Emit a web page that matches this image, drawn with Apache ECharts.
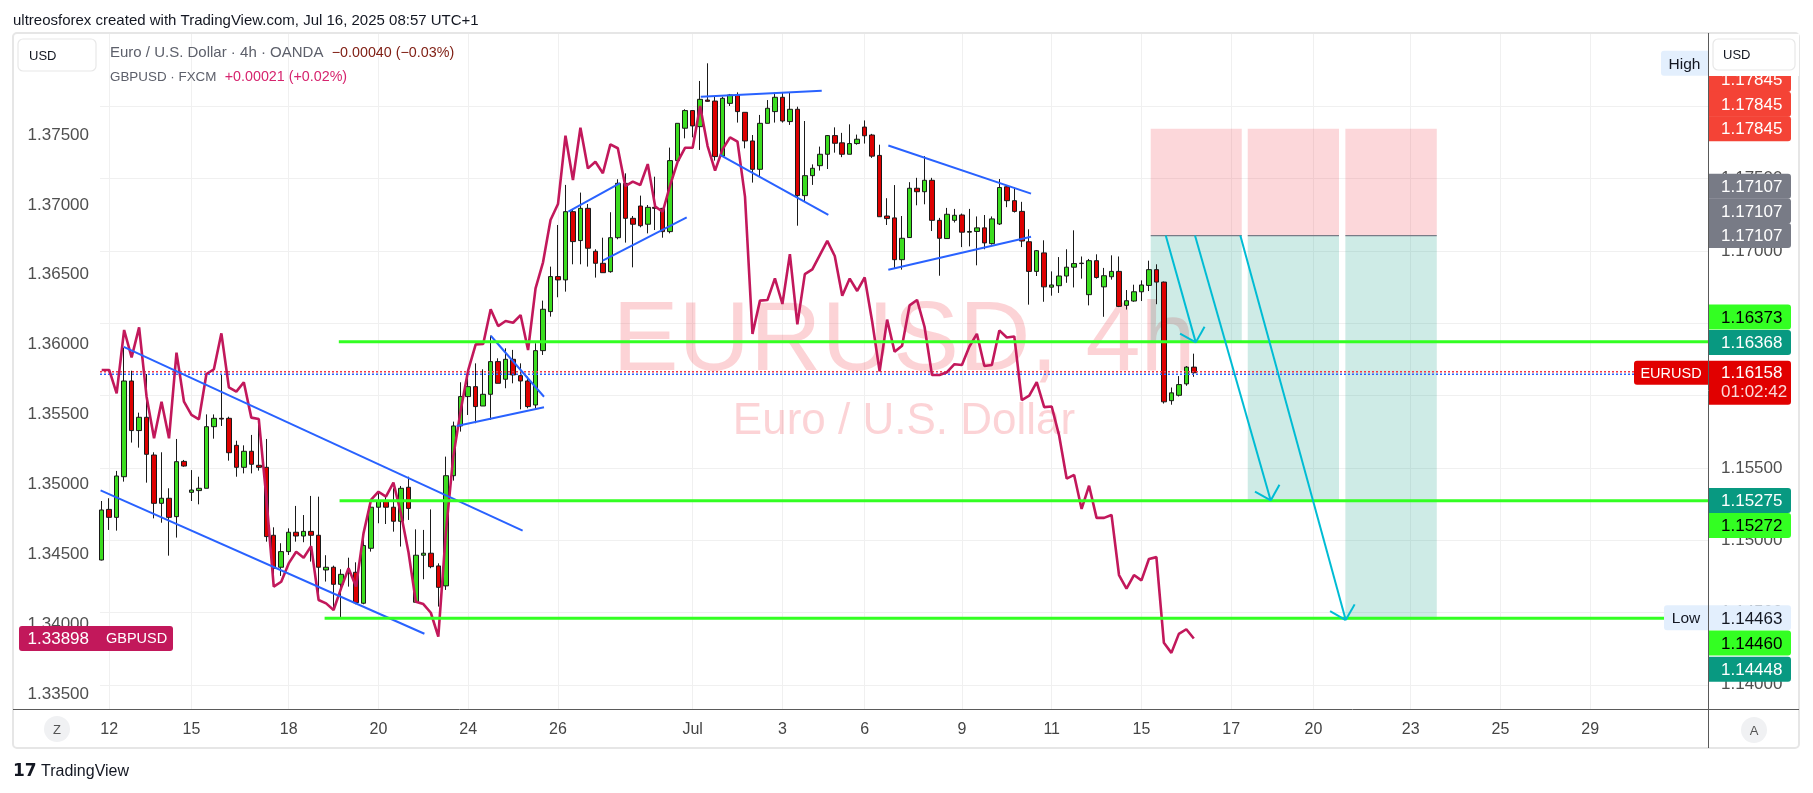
<!DOCTYPE html>
<html><head><meta charset="utf-8">
<script src="https://cdn.jsdelivr.net/npm/echarts@6/dist/echarts.min.js"></script>
<style>html,body{margin:0;padding:0;background:#fff;}#c{width:1813px;height:793px;}</style>
</head><body><div id="c"></div>
<script>
// ---------- DATA (4h bars, index 0 = Jun 11 22:00) ----------
const eurOpen = [1.14863,1.15213,1.15158,1.15439,1.16101,1.15758,1.15850,1.15589,1.15255,1.15290,1.15163,1.15545,1.15331,1.15343,1.15359,1.15785,1.15843,1.15843,1.15656,1.15504,1.15615,1.15518,1.15504,1.15034,1.14813,1.14921,1.15055,1.15029,1.15061,1.15034,1.14794,1.14813,1.14695,1.14771,1.14778,1.14564,1.14944,1.15228,1.15274,1.15228,1.15131,1.15366,1.14571,1.14896,1.14910,1.14822,1.14684,1.15446,1.15790,1.15993,1.16062,1.15928,1.16009,1.16235,1.16113,1.16251,1.16138,1.16101,1.15935,1.16311,1.16581,1.16823,1.16800,1.17272,1.17072,1.17295,1.16998,1.16915,1.16857,1.17092,1.17468,1.17226,1.17311,1.17185,1.17302,1.17295,1.17134,1.17625,1.17849,1.17971,1.17860,1.18044,1.18037,1.17657,1.18021,1.18079,1.17959,1.17761,1.17565,1.17883,1.17964,1.18063,1.17895,1.17980,1.17383,1.17521,1.17590,1.17669,1.17798,1.17748,1.17669,1.17743,1.17857,1.17802,1.17661,1.17242,1.17229,1.16940,1.17093,1.17434,1.17410,1.17489,1.17212,1.17086,1.17212,1.17249,1.17130,1.17135,1.17160,1.17051,1.17187,1.17444,1.17348,1.17274,1.17064,1.16859,1.16987,1.16750,1.16760,1.16827,1.16888,1.16916,1.16698,1.16933,1.16752,1.16822,1.16859,1.16624,1.16654,1.16718,1.16762,1.16871,1.16785,1.15965,1.16002,1.16081,1.16197];
const eurClose = [1.15209,1.15158,1.15444,1.16101,1.15758,1.15850,1.15594,1.15255,1.15290,1.15158,1.15543,1.15513,1.15347,1.15359,1.15785,1.15843,1.15838,1.15605,1.15504,1.15615,1.15525,1.15504,1.15025,1.14806,1.14921,1.15055,1.15029,1.15061,1.15034,1.14813,1.14813,1.14695,1.14764,1.14778,1.14568,1.14963,1.15228,1.15274,1.15228,1.15131,1.15359,1.15220,1.14896,1.14910,1.14817,1.14674,1.15446,1.15790,1.15993,1.16062,1.15924,1.16009,1.16235,1.16085,1.16251,1.16143,1.16101,1.15924,1.16311,1.16597,1.16823,1.16800,1.17272,1.17065,1.17295,1.17019,1.16915,1.16850,1.17092,1.17468,1.17226,1.17185,1.17175,1.17302,1.17295,1.17134,1.17625,1.17883,1.17971,1.17865,1.18049,1.18035,1.17653,1.18056,1.18079,1.17964,1.17761,1.17565,1.17883,1.17987,1.18063,1.17899,1.17980,1.17383,1.17521,1.17572,1.17669,1.17798,1.17745,1.17669,1.17743,1.17773,1.17797,1.17656,1.17237,1.17224,1.16940,1.17088,1.17434,1.17410,1.17489,1.17212,1.17088,1.17254,1.17247,1.17130,1.17135,1.17160,1.17056,1.17222,1.17439,1.17348,1.17274,1.17069,1.16859,1.17002,1.16752,1.16765,1.16827,1.16888,1.16913,1.16913,1.16933,1.16817,1.16829,1.16859,1.16617,1.16656,1.16718,1.16765,1.16871,1.16785,1.15957,1.16019,1.16076,1.16197,1.16158];
const eurHigh = [1.15271,1.15290,1.15479,1.16331,1.16172,1.15882,1.16149,1.15608,1.15608,1.15359,1.15700,1.15555,1.15485,1.15439,1.15870,1.15870,1.16149,1.15854,1.15688,1.15656,1.15728,1.15813,1.15700,1.15089,1.14979,1.15082,1.15237,1.15174,1.15306,1.15301,1.14896,1.14824,1.14799,1.14879,1.14847,1.15009,1.15278,1.15329,1.15301,1.15359,1.15375,1.15439,1.15075,1.15071,1.15213,1.14840,1.15578,1.15820,1.16092,1.16143,1.16223,1.16182,1.16415,1.16258,1.16327,1.16316,1.16223,1.16131,1.16362,1.16657,1.16892,1.17180,1.17457,1.17284,1.17404,1.17325,1.17012,1.17092,1.17268,1.17496,1.17537,1.17242,1.17383,1.17318,1.17514,1.17295,1.17715,1.17883,1.17980,1.17975,1.18176,1.18298,1.18067,1.18067,1.18086,1.18097,1.17959,1.17802,1.17941,1.18044,1.18095,1.18095,1.18095,1.17998,1.17899,1.17599,1.17722,1.17802,1.17855,1.17817,1.17876,1.17805,1.17903,1.17810,1.17735,1.17365,1.17456,1.17242,1.17476,1.17506,1.17656,1.17506,1.17229,1.17298,1.17291,1.17259,1.17291,1.17239,1.17249,1.17239,1.17498,1.17452,1.17439,1.17340,1.17150,1.17007,1.17074,1.16859,1.16958,1.17012,1.17143,1.16962,1.16945,1.16977,1.16883,1.16970,1.16962,1.16730,1.16767,1.16797,1.16933,1.16908,1.16789,1.16056,1.16135,1.16204,1.16290];
const eurLow = [1.14860,1.15071,1.15066,1.15405,1.15675,1.15640,1.15398,1.15151,1.15121,1.14893,1.15018,1.15508,1.15271,1.15248,1.15359,1.15702,1.15790,1.15550,1.15439,1.15462,1.15462,1.15481,1.14990,1.14753,1.14753,1.14898,1.14990,1.14986,1.14852,1.14614,1.14714,1.14518,1.14463,1.14679,1.14557,1.14557,1.14921,1.15117,1.15112,1.15059,1.14956,1.15140,1.14568,1.14730,1.14806,1.14541,1.14656,1.15412,1.15751,1.15866,1.15809,1.15928,1.15832,1.16085,1.16051,1.16085,1.15905,1.15912,1.15912,1.16281,1.16546,1.16680,1.16719,1.16908,1.16908,1.16892,1.16816,1.16850,1.16850,1.17081,1.17058,1.16887,1.17164,1.17122,1.17145,1.17092,1.17122,1.17606,1.17779,1.17786,1.17699,1.18033,1.17625,1.17653,1.18003,1.17888,1.17710,1.17473,1.17514,1.17883,1.17888,1.17888,1.17872,1.17175,1.17341,1.17457,1.17556,1.17567,1.17680,1.17649,1.17669,1.17735,1.17743,1.17644,1.17237,1.17180,1.16883,1.16871,1.17093,1.17316,1.17323,1.17138,1.16829,1.17086,1.17197,1.17027,1.17032,1.16901,1.17012,1.17044,1.17180,1.17303,1.17266,1.17027,1.16629,1.16827,1.16649,1.16691,1.16710,1.16780,1.16748,1.16809,1.16624,1.16809,1.16545,1.16802,1.16612,1.16595,1.16649,1.16654,1.16723,1.16632,1.15945,1.15937,1.15994,1.16068,1.16130];
const gbpClose = [1.35819,1.35819,1.35652,1.36105,1.35909,1.36124,1.35628,1.35330,1.35592,1.35330,1.35943,1.35592,1.35497,1.35466,1.35790,1.35824,1.36081,1.35695,1.35664,1.35731,1.35478,1.35468,1.34913,1.34269,1.34304,1.34435,1.34519,1.34476,1.34559,1.34173,1.34149,1.34102,1.34257,1.34400,1.34269,1.34650,1.34889,1.34948,1.34913,1.35013,1.34793,1.34519,1.34161,1.34144,1.34082,1.33911,1.34650,1.35199,1.35532,1.35818,1.36002,1.36005,1.36253,1.36133,1.36169,1.36157,1.36212,1.35962,1.36403,1.36589,1.36892,1.37006,1.37495,1.37178,1.37552,1.37261,1.37309,1.37226,1.37433,1.37405,1.37135,1.37166,1.37142,1.37292,1.36987,1.36951,1.37142,1.37309,1.37409,1.37409,1.37707,1.37421,1.37245,1.37397,1.37483,1.37452,1.37059,1.36076,1.36315,1.36319,1.36474,1.36291,1.36648,1.36145,1.36505,1.36539,1.36641,1.36742,1.36634,1.36350,1.36473,1.36384,1.36481,1.36166,1.35809,1.36179,1.35949,1.35993,1.36281,1.36320,1.36128,1.35783,1.35783,1.35803,1.35860,1.35855,1.35987,1.36077,1.35847,1.35855,1.36102,1.36051,1.36059,1.35604,1.35635,1.35732,1.35553,1.35558,1.35349,1.35042,1.35068,1.34825,1.34991,1.34761,1.34761,1.34782,1.34352,1.34255,1.34352,1.34314,1.34467,1.34480,1.33867,1.33795,1.33931,1.33964,1.33898];
const xTickIndex = [1,12,25,37,49,61,79,91,102,115,127,139,151,162,175,187,199];
const xTickLabels = ['12','15','18','20','24','26','Jul','3','6','9','11','15','17','20','23','25','29'];
const eurTicks = [1.14,1.145,1.15,1.155,1.16,1.165,1.17,1.175,1.18];
const gbpTicks = [1.335,1.34,1.345,1.35,1.355,1.36,1.365,1.37,1.375];
// drawings in (bar index, EURUSD price)
const trendLines = [
  [2.94,1.16337,56.27,1.15066],[-0.15,1.15345,43.14,1.14353],
  [52.01,1.16414,59.13,1.15992],[47.46,1.15790,59.13,1.15919],
  [62.38,1.17272,69.29,1.17470],[66.98,1.16933,78.21,1.17233],
  [80.08,1.18067,96.26,1.18109],[82.66,1.17664,97.14,1.17249],
  [105.16,1.17730,124.24,1.17397],[105.16,1.16871,124.24,1.17098]
];
const levelStart = [31.7,31.8,29.8];
const levelPrice = [1.16373,1.15272,1.14460];
const positions = [
  [140.24,152.41,1.17107,1.17845,1.16368],
  [153.21,165.41,1.17107,1.17845,1.15275],
  [166.26,178.48,1.17107,1.17845,1.14448]
];
const arrows = [[142.25,1.17107,146.26,1.16368],[146.16,1.17107,156.28,1.15275],[152.22,1.17107,166.31,1.14448]];
const askBid = [1.16165,1.16147];
const lastEur = 1.16158, lastGbp = 1.33898, highEur = 1.18298, lowEur = 1.14463;

const X_MIN = -0.227, X_MAX = 214.74;
const FONT = 'Liberation Sans, Arial, sans-serif';
const chart = echarts.init(document.getElementById('c'), null, {renderer:'canvas'});

const candleData = eurOpen.map((o,i)=>[i,o,eurClose[i],eurLow[i],eurHigh[i]]);
const gbpData = gbpClose.map((v,i)=>[i,v]);

function lineEl(p1,p2,stroke,w,dash){return {type:'line',shape:{x1:p1[0],y1:p1[1],x2:p2[0],y2:p2[1]},style:{stroke:stroke,lineWidth:w,lineDash:dash||null}};}

chart.setOption({
  animation:false,
  backgroundColor:'#ffffff',
  grid:{left:100,right:105,top:33,bottom:84,containLabel:false},
  xAxis:{type:'value',min:X_MIN,max:X_MAX,
    axisLine:{show:false},
    axisTick:{show:false,customValues:xTickIndex},
    axisLabel:{customValues:xTickIndex,margin:13,color:'#444',fontSize:16,fontFamily:FONT,
      formatter:v=>{const k=xTickIndex.indexOf(Math.round(v));return k>=0?xTickLabels[k]:'';}},
    splitLine:{show:true,lineStyle:{color:'#f0f0f0',width:1}}},
  yAxis:[
    {type:'value',position:'left',min:1.333935,max:1.382297,
      axisLine:{show:false},axisTick:{show:false,customValues:gbpTicks},splitLine:{show:false},
      axisLabel:{customValues:gbpTicks,margin:11,color:'#4f4f4f',fontSize:17,fontFamily:FONT,formatter:v=>v.toFixed(5)}},
    {type:'value',position:'right',min:1.138326,max:1.185076,
      axisLine:{show:false},axisTick:{show:false,customValues:eurTicks},
      splitLine:{show:true,lineStyle:{color:'#f0f0f0',width:1}},
      axisLabel:{customValues:eurTicks,margin:13,color:'#4f4f4f',fontSize:17,fontFamily:FONT,formatter:v=>v.toFixed(5)}}
  ],
  series:[
    {type:'custom',name:'positions',xAxisIndex:0,yAxisIndex:1,z:1,data:positions,
      encode:{x:[0,1],y:[2,3,4]},
      renderItem:(params,api)=>{
        const a=api.coord([api.value(0),api.value(3)]);
        const b=api.coord([api.value(1),api.value(2)]);
        const c=api.coord([api.value(1),api.value(4)]);
        return {type:'group',children:[
          {type:'rect',shape:{x:a[0],y:a[1],width:b[0]-a[0],height:b[1]-a[1]},style:{fill:'rgba(242,54,69,0.2)'}},
          {type:'rect',shape:{x:a[0],y:b[1],width:b[0]-a[0],height:c[1]-b[1]},style:{fill:'rgba(8,153,129,0.2)'}},
          lineEl([a[0],b[1]],[b[0],b[1]],'#787b86',1.2)
        ]};
      }},
    {type:'candlestick',name:'EURUSD',xAxisIndex:0,yAxisIndex:1,z:2,barWidth:5,
      encode:{x:0,y:[1,2,3,4]},data:candleData,
      itemStyle:{color:'#3bdc1f',color0:'#dd0000',borderColor:'#1a1a1a',borderColor0:'#1a1a1a',borderWidth:1}},
    {type:'line',name:'GBPUSD',xAxisIndex:0,yAxisIndex:0,z:3,data:gbpData,showSymbol:false,symbol:'none',
      lineStyle:{color:'#c2185b',width:2.6}},
    {type:'custom',name:'askbid',xAxisIndex:0,yAxisIndex:1,z:3,data:askBid.map((v,i)=>[i,v]),
      renderItem:(params,api)=>{
        const p=api.coord([X_MIN,api.value(1)]);const cs=params.coordSys;
        return lineEl([cs.x,p[1]],[cs.x+cs.width,p[1]],api.value(0)===0?'#f23645':'#2962ff',1.5,[2,2]);
      }},
    {type:'custom',name:'trend',xAxisIndex:0,yAxisIndex:1,z:4,data:trendLines,
      renderItem:(params,api)=>{
        return lineEl(api.coord([api.value(0),api.value(1)]),api.coord([api.value(2),api.value(3)]),'#2962ff',2);
      }},
    {type:'custom',name:'levels',xAxisIndex:0,yAxisIndex:1,z:4,data:levelStart.map((s,i)=>[s,levelPrice[i]]),
      renderItem:(params,api)=>{
        const p=api.coord([api.value(0),api.value(1)]);const cs=params.coordSys;
        return lineEl(p,[cs.x+cs.width,p[1]],'#33ff22',3);
      }},
    {type:'custom',name:'arrows',xAxisIndex:0,yAxisIndex:1,z:5,data:arrows,
      renderItem:(params,api)=>{
        const p1=api.coord([api.value(0),api.value(1)]);const p2=api.coord([api.value(2),api.value(3)]);
        const dx=p1[0]-p2[0],dy=p1[1]-p2[1],L=Math.hypot(dx,dy),ux=dx/L,uy=dy/L,h=18,ang=Math.PI/4;
        const r=(t)=>[p2[0]+h*(ux*Math.cos(t)-uy*Math.sin(t)),p2[1]+h*(ux*Math.sin(t)+uy*Math.cos(t))];
        return {type:'group',children:[lineEl(p1,p2,'#00bcd4',2),lineEl(p2,r(ang),'#00bcd4',2),lineEl(p2,r(-ang),'#00bcd4',2)]};
      }}
  ]
});

// ---------- overlay: texts, badges, frame ----------
const yE = v=>chart.convertToPixel({yAxisIndex:1},v);
const yG = v=>chart.convertToPixel({yAxisIndex:0},v);
const BH=25, STEP=24.6, AX=1708;
const rightBadges = [
  [1.17845,-2,'#f44336','#fff'],[1.17845,-1,'#f44336','#fff'],[1.17845,0,'#f44336','#fff'],
  [1.17107,-2,'#787b86','#fff'],[1.17107,-1,'#787b86','#fff'],[1.17107,0,'#787b86','#fff'],
  [1.16373,-1,'#33ff22','#000'],[1.16368,0,'#089981','#fff'],
  [1.15275,0,'#089981','#fff'],[1.15272,1,'#33ff22','#000'],
  [lowEur,0,'#e3effd','#131722'],[1.14460,1,'#33ff22','#000'],[1.14448,2,'#089981','#fff']
];
const g=[];
// watermark
g.push({type:'text',z:0,x:904,y:343,style:{text:'EURUSD, 4h',fontSize:99,fontFamily:FONT,fill:'rgba(242,54,69,0.22)',align:'center',verticalAlign:'middle'}});
g.push({type:'text',z:0,x:904,y:422,style:{text:'Euro / U.S. Dollar',fontSize:44,fontFamily:FONT,fill:'rgba(242,54,69,0.22)',align:'center',verticalAlign:'middle'}});
// frame
g.push({type:'rect',z:50,shape:{x:13,y:33,width:1786,height:715,r:4},style:{fill:null,stroke:'#e6e6e6',lineWidth:2}});
g.push({type:'line',z:50,shape:{x1:13,y1:709.5,x2:1799,y2:709.5},style:{stroke:'#5a5a5a',lineWidth:1}});
g.push({type:'line',z:50,shape:{x1:AX+0.5,y1:33,x2:AX+0.5,y2:748},style:{stroke:'#5a5a5a',lineWidth:1}});
// header
g.push({type:'text',z:60,x:13,y:21,style:{text:'ultreosforex created with TradingView.com, Jul 16, 2025 08:57 UTC+1',fontSize:15,fontFamily:FONT,fill:'#131722',verticalAlign:'middle'}});
g.push({type:'text',z:60,x:110,y:53,style:{text:'{a|Euro / U.S. Dollar · 4h · OANDA}  {b|−0.00040 (−0.03%)}',fontSize:15,fontFamily:FONT,verticalAlign:'middle',rich:{a:{fill:'#5d606b',fontSize:15,fontFamily:FONT},b:{fill:'#7f1d12',fontSize:14.3,fontFamily:FONT}}}});
g.push({type:'text',z:60,x:110,y:77,style:{text:'{a|GBPUSD · FXCM}  {b|+0.00021 (+0.02%)}',fontSize:15,fontFamily:FONT,verticalAlign:'middle',rich:{a:{fill:'#5d606b',fontSize:13.4,fontFamily:FONT},b:{fill:'#d6246e',fontSize:14.3,fontFamily:FONT}}}});
// badges on the right scale
rightBadges.forEach(b=>{
  const cy=yE(b[0])+b[1]*STEP;
  g.push({type:'rect',z:80,shape:{x:AX+1,y:cy-BH/2,width:82,height:BH,r:[0,3,3,0]},style:{fill:b[2]}});
  g.push({type:'text',z:81,x:AX+13,y:cy+1,style:{text:b[0].toFixed(5),fontSize:17,fontFamily:FONT,fill:b[3],verticalAlign:'middle'}});
});
// white mask at top of right scale + USD boxes
g.push({type:'rect',z:85,shape:{x:AX+1,y:34,width:90,height:42},style:{fill:'#fff'}});
[[18,39,78,32,11],[1713,39,82,31,10]].forEach(b=>{
  g.push({type:'rect',z:86,shape:{x:b[0],y:b[1],width:b[2],height:b[3],r:5},style:{fill:'#fff',stroke:'#e8e8e8',lineWidth:1.2}});
  g.push({type:'text',z:87,x:b[0]+b[4],y:b[1]+b[3]/2+1,style:{text:'USD',fontSize:13,fontFamily:FONT,fill:'#131722',verticalAlign:'middle'}});
});
// last price badge
const ly=yE(lastEur);
g.push({type:'rect',z:82,shape:{x:AX+1,y:ly-12,width:82,height:44,r:[0,3,3,0]},style:{fill:'#e10000'}});
g.push({type:'text',z:83,x:AX+13,y:ly+1,style:{text:lastEur.toFixed(5),fontSize:17,fontFamily:FONT,fill:'#fff',verticalAlign:'middle'}});
g.push({type:'text',z:83,x:AX+13,y:ly+20,style:{text:'01:02:42',fontSize:17,fontFamily:FONT,fill:'rgba(255,255,255,0.85)',verticalAlign:'middle'}});
g.push({type:'rect',z:82,shape:{x:1634,y:ly-12,width:74,height:24,r:[3,0,0,3]},style:{fill:'#e10000'}});
g.push({type:'text',z:83,x:1671,y:ly+1,style:{text:'EURUSD',fontSize:14.5,fontFamily:FONT,fill:'#fff',align:'center',verticalAlign:'middle'}});
// High / Low pills
[[highEur,'High',1661],[lowEur,'Low',1664]].forEach(h=>{
  const y=yE(h[0]);
  g.push({type:'rect',z:80,shape:{x:h[2],y:y-12.5,width:AX-h[2],height:25,r:[3,0,0,3]},style:{fill:'#e3effd'}});
  g.push({type:'text',z:81,x:(h[2]+AX)/2,y:y+1,style:{text:h[1],fontSize:15.5,fontFamily:FONT,fill:'#131722',align:'center',verticalAlign:'middle'}});
});
// GBP badge on left
const gy=yG(lastGbp);
g.push({type:'rect',z:80,shape:{x:19,y:gy-12.5,width:154,height:25,r:3},style:{fill:'#c2185b'}});
g.push({type:'text',z:81,x:89,y:gy+1,style:{text:lastGbp.toFixed(5),fontSize:17,fontFamily:FONT,fill:'#fff',align:'right',verticalAlign:'middle'}});
g.push({type:'text',z:81,x:106,y:gy+1,style:{text:'GBPUSD',fontSize:14.5,fontFamily:FONT,fill:'#fff',verticalAlign:'middle'}});
// Z / A buttons
[[57,729,'Z'],[1754,730,'A']].forEach(b=>{
  g.push({type:'circle',z:60,shape:{cx:b[0],cy:b[1],r:13},style:{fill:'#f0f1f3'}});
  g.push({type:'text',z:61,x:b[0],y:b[1]+1,style:{text:b[2],fontSize:13,fontFamily:FONT,fill:'#555',align:'center',verticalAlign:'middle'}});
});
// TradingView logo
g.push({type:'text',z:60,x:13,y:772,style:{text:'17',fontSize:17,fontWeight:'bold',fontFamily:'DejaVu Sans, sans-serif',fill:'#131722',verticalAlign:'middle'}});
g.push({type:'text',z:60,x:41,y:772,style:{text:'TradingView',fontSize:16,fontFamily:FONT,fill:'#131722',verticalAlign:'middle'}});
chart.setOption({graphic:{elements:g}});
</script></body></html>
